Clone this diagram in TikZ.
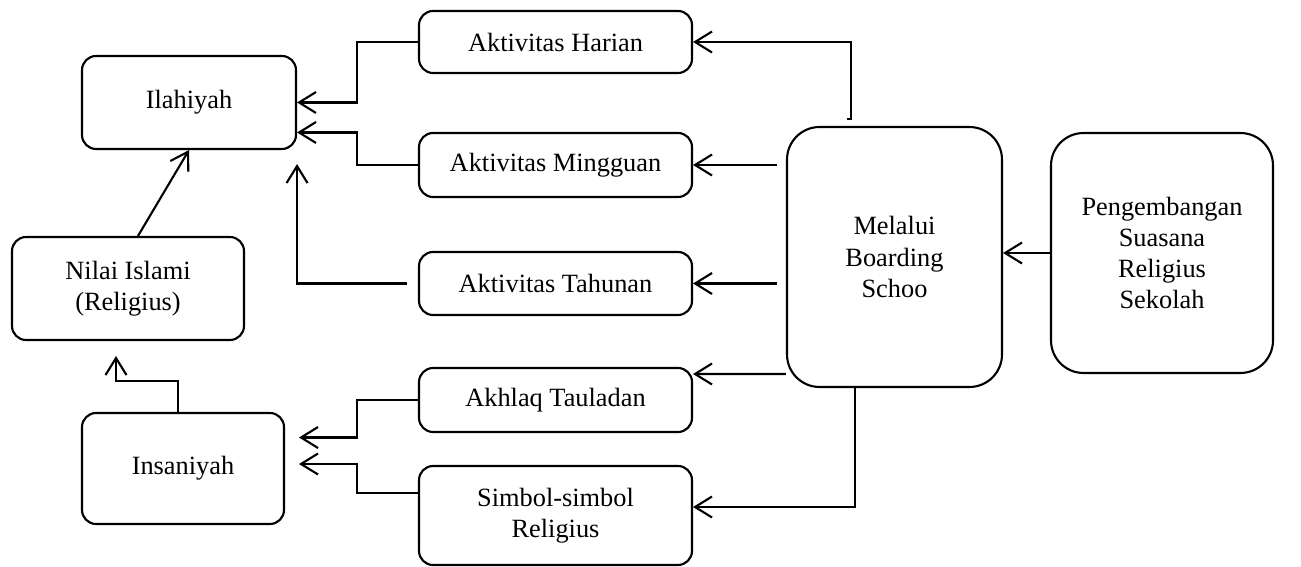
\documentclass[tikz,border=0pt]{standalone}
\usepackage{fontspec}
\setmainfont{Liberation Serif}
\usetikzlibrary{arrows.meta, positioning}

\begin{document}
\begin{tikzpicture}[
    x=0.02cm, y=-0.02cm,
    font=\fontsize{15}{17.7}\selectfont,
    box/.style={rectangle, rounded corners=0.28cm, minimum width=5.46cm, minimum height=1.28cm, inner sep=0pt, align=center, draw=black, line width=1.2pt, fill=white},
    bigbox/.style={box, rounded corners=0.65cm},
    arrow/.style={line width=1.2pt, -{Straight Barb[length=3.4mm, width=4.2mm]}}
]
\useasboundingbox (0,0) rectangle (1301,567);

\node (ilahiyah) [box, minimum width=4.28cm, minimum height=1.86cm] at (189,102.5) {Ilahiyah};
\node (nilai) [box, minimum width=4.64cm, minimum height=2.06cm] at (128,288.5) {Nilai Islami\\(Religius)};
\node (insaniyah) [box, minimum width=4.04cm, minimum height=2.22cm] at (183,468.5) {Insaniyah};
\node (harian) [box, minimum height=1.24cm] at (555.5,42) {Aktivitas Harian};
\node (mingguan) [box] at (555.5,165) {Aktivitas Mingguan};
\node (tahunan) [box, minimum height=1.26cm] at (555.5,283.5) {Aktivitas Tahunan};
\node (akhlaq) [box] at (555.5,400) {Akhlaq Tauladan};
\node (simbol) [box, minimum height=1.98cm] at (555.5,515.5) {Simbol-simbol\\Religius};
\node (melalui) [bigbox, minimum width=4.3cm, minimum height=5.2cm] at (894.5,257) {Melalui\\Boarding\\Schoo};
\node (pengembangan) [bigbox, minimum width=4.44cm, minimum height=4.8cm] at (1162,253) {Pengembangan\\Suasana\\Religius\\Sekolah};

\draw [arrow] (pengembangan.west) -- (pengembangan.west -| melalui.east);
\draw [arrow] ([xshift=-0.95cm, yshift=0.14cm]melalui.north) -- ++(4,0) |- (harian.east);
\draw [arrow] ([xshift=-0.18cm]melalui.west |- mingguan.east) -- (mingguan.east);
\draw [arrow] ([xshift=-0.18cm]melalui.west |- tahunan.east) -- (tahunan.east);
\draw [arrow] ([yshift=-2.34cm]melalui.west) -- ([yshift=0.52cm]akhlaq.east);
\draw [arrow] ([xshift=-0.79cm]melalui.south) |- ([yshift=0.17cm]simbol.east);

\draw [arrow] (harian.west) -- ++(-61,0) |- (ilahiyah.east);
\draw [arrow] (mingguan.west) -- ++(-61,0) |- ([yshift=-0.6cm]ilahiyah.east);
\draw [arrow] ([xshift=-0.22cm]tahunan.west) -| ([yshift=-0.28cm]ilahiyah.south east);
\draw [arrow] (akhlaq.west) -- ++(-61,0) |- ([xshift=0.28cm, yshift=0.62cm]insaniyah.east);
\draw [arrow] ([yshift=0.45cm]simbol.west) -- ++(-61,0) |- ([xshift=0.28cm, yshift=0.09cm]insaniyah.east);

\draw [arrow] ([xshift=0.2cm]nilai.north) -- (ilahiyah.south);
\draw [arrow] ([xshift=-0.1cm]insaniyah.north) -- ++(0,-31) -| ([xshift=-0.24cm, yshift=-0.3cm]nilai.south);

\end{tikzpicture}
\end{document}
